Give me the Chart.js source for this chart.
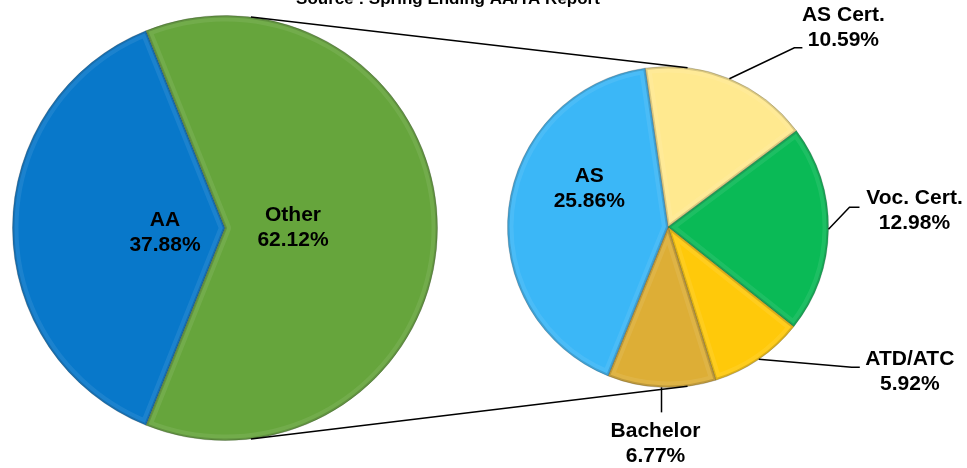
<!DOCTYPE html>
<html>
<head>
<meta charset="utf-8">
<title>Degree mix</title>
<script src="https://cdn.jsdelivr.net/npm/chart.js@4.4.1/dist/chart.umd.min.js"></script>
<style>
  body { margin: 0; background: #fff; }
  #wrap { position: relative; width: 967px; height: 468px; }
  #wrap canvas { position: absolute; left: 0; top: 0; }
</style>
</head>
<body>
<div id="wrap">
  <canvas id="mainPie" width="967" height="468"></canvas>
  <canvas id="subPie" width="967" height="468"></canvas>
</div>
<script>
const titleText = 'Source : Spring Ending AA/TA Report';

// big pie
const mainLabels = ['AA', 'Other'];
const mainValues = [37.88, 62.12];
const mainColors = ['#0878CA', '#66A53C'];

// small pie = breakdown of "Other" (shares of the total)
const subLabels = ['AS Cert.', 'Voc. Cert.', 'ATD/ATC', 'Bachelor', 'AS'];
const subValues = [10.59, 12.98, 5.92, 6.77, 25.86];
const subColors = ['#FFE98F', '#0ABA56', '#FFC90A', '#DDAE36', '#3BB7F7'];

const FONT = 'bold 21px "Liberation Sans", Arial, sans-serif';

// label placement: inside labels are polar (fraction of radius, turn in deg),
// outside labels get a leader line: elbow offset, flat tail, text offset
const mainPlace = [
    { inside: true, r: 0.283, turn: -4.3 },
    { inside: true, r: 0.32, turn: 0 }
];
const subPlace = [
    { elbow: [65, -31], tail: 8, text: [41, -19.5] },
    { elbow: [21, -22], tail: 10, text: [55, 4] },
    { elbow: [93, 8], tail: 8, text: [50, 4.5] },
    { elbow: [0, 25], tail: 0, text: [-6, 31.5] },
    { inside: true, r: 0.546, turn: 19.2 }
];

// where the two connector lines leave each pie (deg clockwise from top)
const linkAngles = [7, 173];

function drawLabels(chart, labels, values, place) {
    const ctx = chart.ctx;
    const arcs = chart.getDatasetMeta(0).data;
    ctx.save();
    ctx.font = FONT;
    ctx.fillStyle = '#000';
    ctx.textAlign = 'center';
    ctx.textBaseline = 'middle';
    ctx.strokeStyle = '#000';
    ctx.lineWidth = 1.5;
    arcs.forEach((arc, i) => {
        const p = place[i];
        const mid = (arc.startAngle + arc.endAngle) / 2;
        let tx, ty;
        if (p.inside) {
            const a = mid + p.turn * Math.PI / 180;
            tx = arc.x + Math.cos(a) * arc.outerRadius * p.r;
            ty = arc.y + Math.sin(a) * arc.outerRadius * p.r;
        } else {
            const ex = arc.x + Math.cos(mid) * arc.outerRadius;
            const ey = arc.y + Math.sin(mid) * arc.outerRadius;
            const bx = ex + p.elbow[0], by = ey + p.elbow[1];
            const cx = bx + p.tail;
            ctx.beginPath();
            ctx.moveTo(ex, ey);
            ctx.lineTo(bx, by);
            ctx.lineTo(cx, by);
            ctx.stroke();
            tx = cx + p.text[0];
            ty = by + p.text[1];
        }
        ctx.fillText(labels[i], tx, ty - 12.5);
        ctx.fillText(values[i].toFixed(2) + '%', tx, ty + 12.5);
    });
    ctx.restore();
}

// soft darker rim on every slice, a bit like the office bevel
const bevel = {
    id: 'bevel',
    afterDatasetsDraw(chart) {
        const ctx = chart.ctx;
        chart.getDatasetMeta(0).data.forEach(arc => {
            ctx.save();
            ctx.beginPath();
            ctx.moveTo(arc.x, arc.y);
            ctx.arc(arc.x, arc.y, arc.outerRadius, arc.startAngle, arc.endAngle);
            ctx.closePath();
            ctx.clip();
            ctx.lineJoin = 'round';
            ctx.strokeStyle = 'rgba(255,255,255,0.08)';
            ctx.lineWidth = 12;
            ctx.stroke();
            ctx.strokeStyle = 'rgba(0,0,0,0.14)';
            ctx.lineWidth = 4;
            ctx.stroke();
            ctx.restore();
        });
    }
};

const baseOptions = (pad, rotation) => ({
    responsive: false,
    animation: false,
    rotation: rotation,
    layout: { padding: pad },
    plugins: { legend: { display: false }, tooltip: { enabled: false } }
});

const mainChart = new Chart(document.getElementById('mainPie').getContext('2d'), {
    type: 'pie',
    data: {
        labels: mainLabels,
        datasets: [{
            data: mainValues,
            backgroundColor: mainColors,
            borderColor: 'rgba(0,0,0,0.2)',
            borderWidth: 1
        }]
    },
    options: baseOptions({ left: 12, right: 529, top: 15, bottom: 27 }, 201.8),
    plugins: [bevel, {
        id: 'mainLabels',
        afterDraw(chart) { drawLabels(chart, mainLabels, mainValues, mainPlace); }
    }]
});

new Chart(document.getElementById('subPie').getContext('2d'), {
    type: 'pie',
    data: {
        labels: subLabels,
        datasets: [{
            data: subValues,
            backgroundColor: subColors,
            borderColor: 'rgba(0,0,0,0.2)',
            borderWidth: 1
        }]
    },
    options: baseOptions({ left: 507, right: 138, top: 66, bottom: 80 }, -8.2),
    plugins: [bevel, {
        id: 'subLabels',
        afterDraw(chart) {
            drawLabels(chart, subLabels, subValues, subPlace);
            const ctx = chart.ctx;
            const big = mainChart.getDatasetMeta(0).data[0];
            const small = chart.getDatasetMeta(0).data[0];
            ctx.save();
            ctx.strokeStyle = '#000';
            ctx.lineWidth = 1.5;
            linkAngles.forEach(deg => {
                const a = deg * Math.PI / 180;
                ctx.beginPath();
                ctx.moveTo(big.x + Math.sin(a) * big.outerRadius, big.y - Math.cos(a) * big.outerRadius);
                ctx.lineTo(small.x + Math.sin(a) * small.outerRadius, small.y - Math.cos(a) * small.outerRadius);
                ctx.stroke();
            });
            // title sits mostly above the top edge, as in the source
            ctx.font = 'bold 17px "Liberation Sans", Arial, sans-serif';
            ctx.fillStyle = '#000';
            ctx.textAlign = 'center';
            ctx.textBaseline = 'alphabetic';
            ctx.fillText(titleText, 448, 4);
            ctx.restore();
        }
    }]
});
</script>
</body>
</html>
